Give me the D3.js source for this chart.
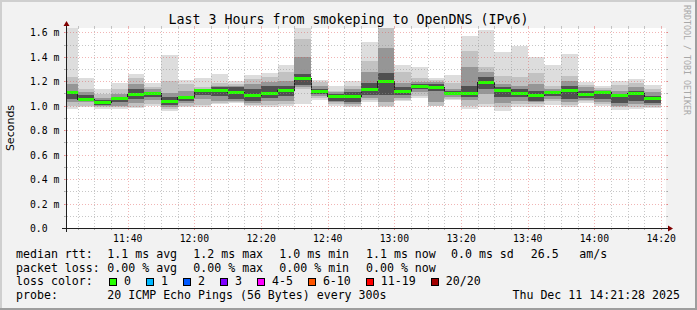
<!DOCTYPE html>
<html>
<head>
<meta charset="utf-8" />
<title>Last 3 Hours from smokeping to OpenDNS (IPv6)</title>
<script src="https://d3js.org/d3.v7.min.js"></script>
<style>
  body { margin: 0; background: #f2f2f2; }
  svg text { font-family: "DejaVu Sans Mono", monospace; fill: #000; }
</style>
</head>
<body>
<svg id="chart" width="697" height="310"></svg>
<script>
// 5 minute rounds (end time of each round), values in ms
var slotEnd = ["11:25", "11:30", "11:35", "11:40", "11:45", "11:50", "11:55",
    "12:00", "12:05", "12:10", "12:15", "12:20", "12:25", "12:30", "12:35", "12:40", "12:45", "12:50", "12:55",
    "13:00", "13:05", "13:10", "13:15", "13:20", "13:25", "13:30", "13:35", "13:40", "13:45", "13:50", "13:55",
    "14:00", "14:05", "14:10", "14:15", "14:20"];

var median = [1.106, 1.054, 1.022, 1.057, 1.090, 1.096, 1.033, 1.065, 1.123, 1.128, 1.106, 1.082,
    1.096, 1.120, 1.224, 1.112, 1.074, 1.074, 1.136, 1.196, 1.112, 1.155, 1.147, 1.096,
    1.096, 1.193, 1.120, 1.096, 1.082, 1.106, 1.123, 1.090, 1.104, 1.082, 1.096, 1.055];

// smoke bands, outermost to innermost
var outerLo = [0.973, 0.987, 0.973, 0.973, 0.981, 1.000, 0.954, 0.987, 0.992, 1.014, 1.019, 1.000,
    0.992, 1.000, 1.014, 1.046, 1.000, 0.987, 1.027, 0.987, 1.035, 1.063, 1.000, 1.046,
    0.973, 0.987, 0.960, 0.987, 0.992, 1.008, 0.992, 1.019, 1.000, 0.965, 0.973, 0.981];
var outerHi = [1.660, 1.226, 1.136, 1.188, 1.259, 1.183, 1.414, 1.210, 1.226, 1.259, 1.204, 1.253,
    1.264, 1.335, 1.660, 1.210, 1.164, 1.199, 1.518, 1.660, 1.335, 1.319, 1.226, 1.253,
    1.572, 1.619, 1.436, 1.490, 1.395, 1.335, 1.422, 1.191, 1.164, 1.199, 1.218, 1.172];
var midLo = [1.000, 1.000, 0.987, 0.987, 0.992, 1.014, 0.973, 1.000, 1.008, 1.019, 1.027, 1.008,
    1.008, 1.014, 1.136, 1.063, 1.014, 1.000, 1.046, 1.000, 1.046, 1.082, 1.000, 1.055,
    1.000, 1.014, 0.987, 1.014, 1.014, 1.035, 1.008, 1.035, 1.014, 0.987, 0.992, 0.992];
var midHi = [1.237, 1.136, 1.096, 1.136, 1.226, 1.155, 1.199, 1.177, 1.150, 1.183, 1.177, 1.218,
    1.232, 1.272, 1.545, 1.191, 1.123, 1.164, 1.368, 1.660, 1.272, 1.226, 1.210, 1.183,
    1.450, 1.313, 1.245, 1.232, 1.264, 1.164, 1.245, 1.172, 1.144, 1.172, 1.183, 1.136];
var innerLo = [1.027, 1.027, 1.000, 1.000, 1.019, 1.046, 0.992, 1.019, 1.055, 1.041, 1.041, 1.019,
    1.035, 1.035, 1.150, 1.082, 1.027, 1.014, 1.063, 1.027, 1.063, 1.109, 1.027, 1.074,
    1.046, 1.096, 1.019, 1.035, 1.027, 1.055, 1.027, 1.046, 1.027, 1.000, 1.014, 1.008];
var innerHi = [1.177, 1.109, 1.063, 1.096, 1.177, 1.136, 1.101, 1.123, 1.136, 1.164, 1.164, 1.177,
    1.191, 1.204, 1.395, 1.164, 1.109, 1.136, 1.272, 1.470, 1.183, 1.191, 1.191, 1.136,
    1.313, 1.272, 1.177, 1.164, 1.177, 1.136, 1.204, 1.155, 1.131, 1.123, 1.150, 1.109];
var coreLo = [1.055, 1.041, 1.008, 1.027, 1.055, 1.074, 1.008, 1.041, 1.090, 1.082, 1.055, 1.035,
    1.063, 1.082, 1.170, 1.096, 1.041, 1.027, 1.090, 1.090, 1.090, 1.134, 1.123, 1.085,
    1.074, 1.136, 1.074, 1.068, 1.041, 1.082, 1.055, 1.063, 1.055, 1.019, 1.041, 1.019];
var coreHi = [1.123, 1.090, 1.046, 1.074, 1.136, 1.115, 1.074, 1.082, 1.128, 1.150, 1.150, 1.136,
    1.164, 1.164, 1.260, 1.136, 1.096, 1.109, 1.183, 1.270, 1.150, 1.177, 1.177, 1.123,
    1.164, 1.232, 1.150, 1.136, 1.123, 1.123, 1.164, 1.123, 1.117, 1.096, 1.123, 1.082];

var yTicks = [0, 0.2, 0.4, 0.6, 0.8, 1.0, 1.2, 1.4, 1.6];

var statsRtt = ["median rtt:", "1.1 ms avg", "1.2 ms max", "1.0 ms min", "1.1 ms now", "0.0 ms sd", "26.5", "am/s"];
var statsLoss = ["packet loss:", "0.00 % avg", "0.00 % max", "0.00 % min", "0.00 % now"];
var lossLabels = ["0", "1", "2", "3", "4-5", "6-10", "11-19", "20/20"];
var lossColors = ["#26ff00", "#00b8ff", "#0059ff", "#7e00ff", "#ff00ff", "#ff5500", "#ff0000", "#a10000"];

var W = 697, H = 310;
var X0 = 66, X1 = 666, Y0 = 228, Y1 = 28;

var parse = d3.timeParse("%Y-%m-%d %H:%M:%S");
var tStart = parse("2025-12-11 11:21:28"), tEnd = parse("2025-12-11 14:21:28");

var x = d3.scaleTime().domain([tStart, tEnd]).range([X0, X1]);
var y = d3.scaleLinear().domain([0, 1.635]).range([Y0, Y1]);

var svg = d3.select("#chart");

// background and frame
svg.append("rect").attr("width", W).attr("height", H).attr("fill", "#f2f2f2");
svg.append("path").attr("d", "M0,0H" + W + "V2H2V" + H + "H0Z").attr("fill", "#cfcfcf");
svg.append("path").attr("d", "M" + W + ",0V" + H + "H0V" + (H - 2) + "H" + (W - 2) + "V0Z").attr("fill", "#9e9e9e");
svg.append("rect").attr("x", X0).attr("y", Y1).attr("width", X1 - X0).attr("height", Y0 - Y1).attr("fill", "#fff");

svg.append("clipPath").attr("id", "plot")
    .append("rect").attr("x", X0).attr("y", Y1).attr("width", X1 - X0).attr("height", Y0 - Y1);

var rounds = slotEnd.map(function (s, i) {
    var end = parse("2025-12-11 " + s + ":00");
    var start = d3.timeMinute.offset(end, -5);
    if (start < tStart) start = tStart;
    return {start: start, end: end, i: i};
});

var bands = [
    {lo: outerLo, hi: outerHi, color: "#dddddd"},
    {lo: midLo, hi: midHi, color: "#c2c2c2"},
    {lo: innerLo, hi: innerHi, color: "#969696"},
    {lo: coreLo, hi: coreHi, color: "#505050"}
];

var smoke = svg.append("g").attr("clip-path", "url(#plot)").attr("shape-rendering", "crispEdges");

bands.forEach(function (b) {
    smoke.append("g").selectAll("rect")
        .data(rounds)
        .enter().append("rect")
        .attr("x", function (d) { return x(d.start); })
        .attr("width", function (d) { return x(d.end) - x(d.start); })
        .attr("y", function (d) { return y(b.hi[d.i]); })
        .attr("height", function (d) { return y(b.lo[d.i]) - y(b.hi[d.i]); })
        .attr("fill", b.color);
});

// median step line + loss coloured band
var pts = [];
rounds.forEach(function (d) {
    pts.push([x(d.start), y(median[d.i])]);
    pts.push([x(d.end), y(median[d.i])]);
});
smoke.append("path")
    .attr("d", d3.line()(pts))
    .attr("fill", "none")
    .attr("stroke", "#202020")
    .attr("stroke-width", 1);

smoke.append("g").selectAll("rect")
    .data(rounds)
    .enter().append("rect")
    .attr("x", function (d) { return x(d.start); })
    .attr("width", function (d) { return x(d.end) - x(d.start); })
    .attr("y", function (d) { return y(median[d.i]) - 1.5; })
    .attr("height", 3)
    .attr("fill", lossColors[0]);

// grid
var gridCol = "rgba(143,143,143,0.5)", mgridCol = "rgba(222,79,79,0.42)";
var grid = svg.append("g").attr("shape-rendering", "crispEdges");

function hline(v, col) {
    var py = Math.round(y(v)) + 0.5;
    grid.append("line").attr("x1", X0 - 2).attr("x2", X1 + 2).attr("y1", py).attr("y2", py)
        .attr("stroke", col).attr("stroke-dasharray", "1,2");
    grid.append("line").attr("x1", X0 - 2).attr("x2", X0).attr("y1", py).attr("y2", py).attr("stroke", col);
    grid.append("line").attr("x1", X1).attr("x2", X1 + 2).attr("y1", py).attr("y2", py).attr("stroke", col);
}
function vline(t, col) {
    var px = Math.round(x(t)) + 0.5;
    grid.append("line").attr("x1", px).attr("x2", px).attr("y1", Y0 + 2).attr("y2", Y1 - 2)
        .attr("stroke", col).attr("stroke-dasharray", "1,2");
    grid.append("line").attr("x1", px).attr("x2", px).attr("y1", Y0).attr("y2", Y0 + 2).attr("stroke", col);
    grid.append("line").attr("x1", px).attr("x2", px).attr("y1", Y1 - 2).attr("y2", Y1).attr("stroke", col);
}

d3.range(1, 17).forEach(function (k) {
    if (k % 2) hline(k / 10, gridCol);
});
x.ticks(d3.timeMinute.every(5)).forEach(function (t) {
    if (t.getMinutes() % 20) vline(t, gridCol);
});
yTicks.forEach(function (v) { if (v > 0) hline(v, mgridCol); });
var majors = x.ticks(d3.timeMinute.every(20));
majors.forEach(function (t) { vline(t, mgridCol); });

// axes
svg.append("line").attr("x1", X0 - 4).attr("x2", X1 + 4).attr("y1", Y0 + 0.5).attr("y2", Y0 + 0.5)
    .attr("stroke", "#1f1f1f").attr("shape-rendering", "crispEdges");
svg.append("line").attr("x1", X0 + 0.5).attr("x2", X0 + 0.5).attr("y1", Y0 + 4).attr("y2", Y1 - 4)
    .attr("stroke", "#1f1f1f").attr("shape-rendering", "crispEdges");
svg.append("path").attr("d", "M" + (X1 + 2) + "," + (Y0 - 2.5) + "L" + (X1 + 2) + "," + (Y0 + 3.5) + "L" + (X1 + 7) + "," + (Y0 + 0.5) + "Z")
    .attr("fill", "#800000");
svg.append("path").attr("d", "M" + (X0 - 2.5) + "," + (Y1 - 2) + "L" + (X0 + 3.5) + "," + (Y1 - 2) + "L" + (X0 + 0.5) + "," + (Y1 - 7) + "Z")
    .attr("fill", "#800000");

// tick labels
svg.append("g").selectAll("text")
    .data(yTicks)
    .enter().append("text")
    .attr("x", 30)
    .attr("y", function (d) { return y(d) + 4; })
    .style("font-size", "9.75px")
    .text(function (d) { return d === 0 ? "0.0" : d.toFixed(1) + " m"; });

svg.append("g").selectAll("text")
    .data(majors)
    .enter().append("text")
    .attr("x", function (d) { return x(d); })
    .attr("y", 241.5)
    .attr("text-anchor", "middle")
    .style("font-size", "9.75px")
    .text(d3.timeFormat("%H:%M"));

// title, axis label, watermark
svg.append("text").attr("x", 348.5).attr("y", 24).attr("text-anchor", "middle")
    .style("font-size", "13.3px").text("Last 3 Hours from smokeping to OpenDNS (IPv6)");
svg.append("text").attr("transform", "translate(14,128) rotate(-90)").attr("text-anchor", "middle")
    .style("font-family", "'DejaVu Sans', sans-serif").style("font-size", "11px").text("Seconds");
svg.append("text").attr("transform", "translate(684,5) rotate(90)")
    .style("font-size", "8.3px").style("fill", "#a8a8a8").text("RRDTOOL / TOBI OETIKER");

// legend
var cols = [16, 107.3, 193.3, 279.3, 366, 451, 530.7, 579.3];
var lg = svg.append("g").style("font-size", "11.6px");
statsRtt.forEach(function (s, i) { lg.append("text").attr("x", cols[i]).attr("y", 258).text(s); });
statsLoss.forEach(function (s, i) { lg.append("text").attr("x", cols[i]).attr("y", 271.7).text(s); });
lg.append("text").attr("x", 16).attr("y", 285.3).text("loss color:");

var bx = 109;
lossLabels.forEach(function (s, i) {
    lg.append("rect").attr("x", bx + 0.5).attr("y", 278.5).attr("width", 7).attr("height", 7)
        .attr("fill", lossColors[i]).attr("stroke", "#000").attr("shape-rendering", "crispEdges");
    var t = lg.append("text").attr("x", bx + 15).attr("y", 285.3).text(s);
    bx = bx + 15 + t.node().getComputedTextLength() + 15;
});

lg.append("text").attr("x", 16).attr("y", 299).text("probe:");
lg.append("text").attr("x", 107.3).attr("y", 299).text("20 ICMP Echo Pings (56 Bytes) every 300s");
lg.append("text").attr("x", 680).attr("y", 299).attr("text-anchor", "end").text("Thu Dec 11 14:21:28 2025");
</script>
</body>
</html>
